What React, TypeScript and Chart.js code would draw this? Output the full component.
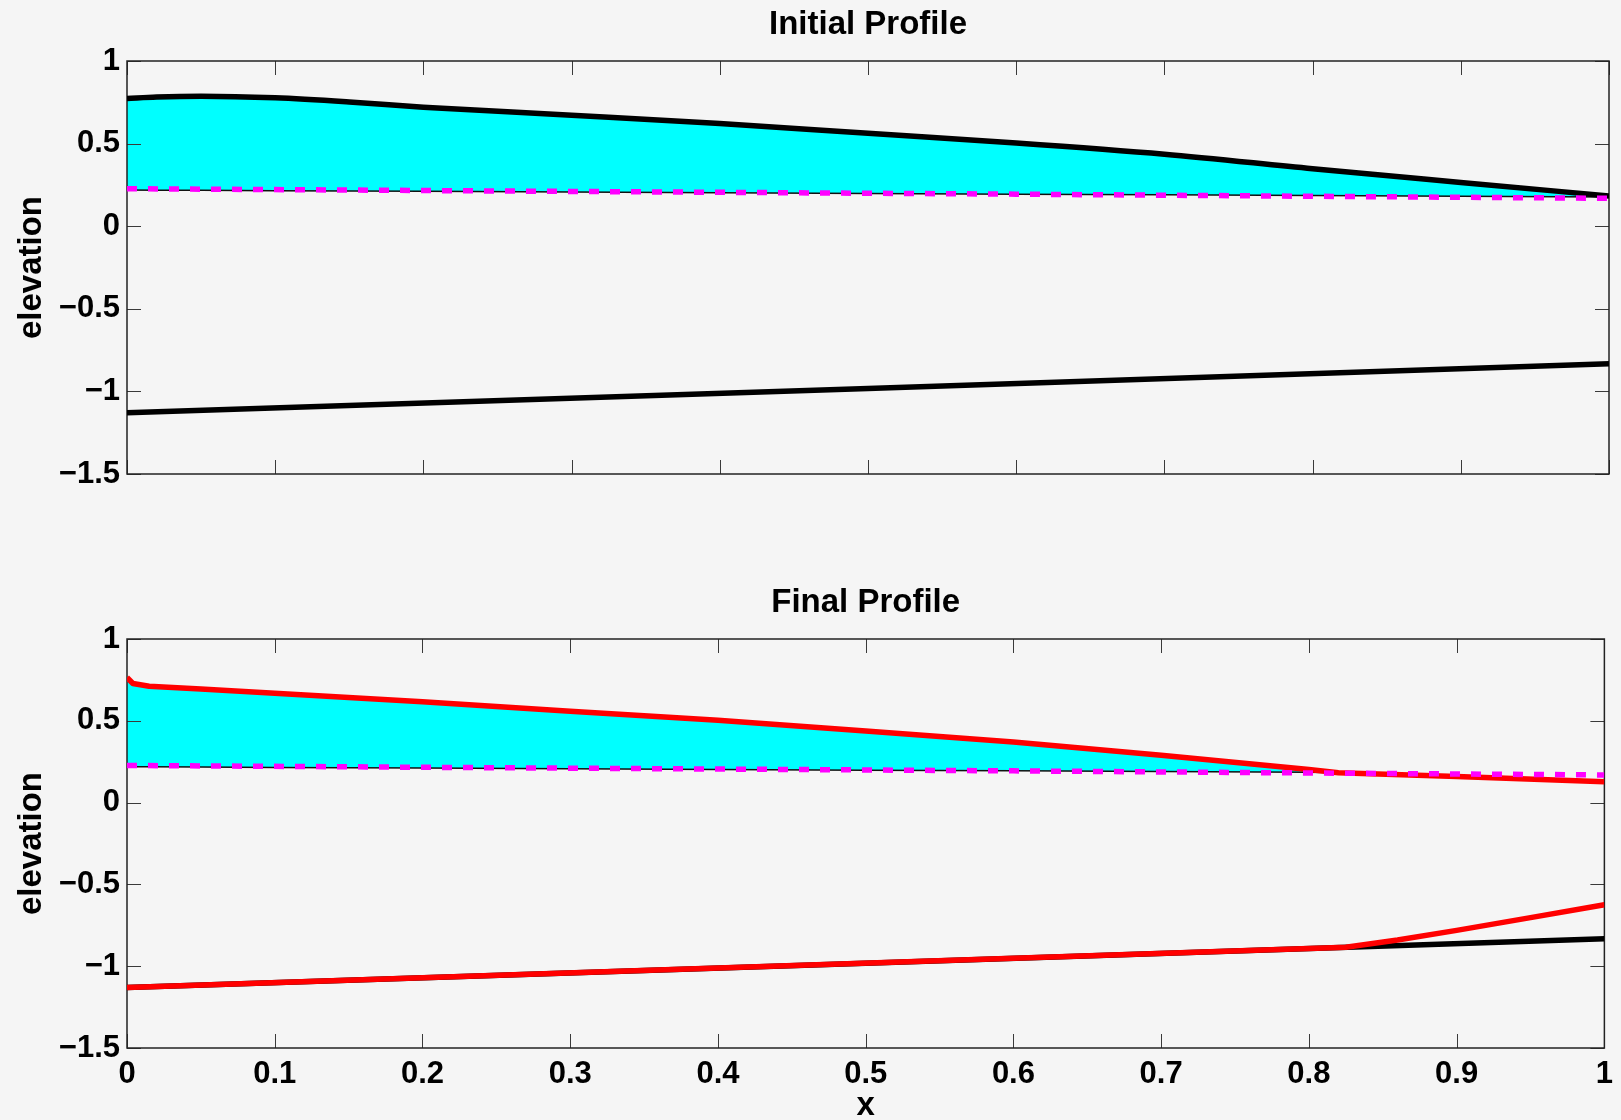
import React, { useEffect, useRef } from 'react';
import { Chart, registerables } from 'chart.js';
Chart.register(...registerables);

// ---- data ----
const xInit = [0, 0.02, 0.05, 0.1, 0.15, 0.2, 0.3, 0.4, 0.5, 0.6, 0.7, 0.8, 0.9, 1.0];
const surfInit = [0.773, 0.782, 0.787, 0.777, 0.752, 0.72, 0.672, 0.622, 0.562, 0.504, 0.436, 0.348, 0.265, 0.183];
const baseInit = [0.219, 0.218, 0.217, 0.215, 0.213, 0.211, 0.207, 0.203, 0.198, 0.194, 0.19, 0.186, 0.181, 0.177];

const xSea = [0, 0.2, 0.4, 0.6, 0.8, 1.0];
const seaLevel = [0.227, 0.216, 0.205, 0.194, 0.181, 0.169];

const xBed = [0, 0.5, 1.0];
const bedInit = [-1.13, -0.982, -0.832];

const xFinal = [0, 0.004, 0.015, 0.05, 0.1, 0.2, 0.3, 0.4, 0.5, 0.6, 0.7, 0.8, 0.82, 0.9, 1.0];
const surfFinal = [0.765, 0.728, 0.711, 0.694, 0.668, 0.617, 0.558, 0.503, 0.437, 0.371, 0.289, 0.203, 0.183, 0.159, 0.128];

const xFinalIce = [0, 0.004, 0.015, 0.05, 0.1, 0.2, 0.3, 0.4, 0.5, 0.6, 0.7, 0.8, 0.82];
const surfFinalIce = [0.765, 0.728, 0.711, 0.694, 0.668, 0.617, 0.558, 0.503, 0.437, 0.371, 0.289, 0.203, 0.183];
const baseFinal = [0.219, 0.219, 0.219, 0.218, 0.215, 0.211, 0.207, 0.203, 0.198, 0.194, 0.19, 0.186, 0.183];

const xBedFinal = [0, 0.2, 0.4, 0.6, 0.8, 0.825, 0.86, 0.9, 0.95, 1.0];
const bedFinal = [-1.13, -1.071, -1.011, -0.952, -0.892, -0.884, -0.84, -0.781, -0.703, -0.624];

const xTicks = [0, 0.1, 0.2, 0.3, 0.4, 0.5, 0.6, 0.7, 0.8, 0.9, 1];
const yTicks = [-1.5, -1, -0.5, 0, 0.5, 1];

const FONT = "'Liberation Sans', Arial, Helvetica, sans-serif";
const BG = '#f5f5f5';

const pts = (xs: number[], ys: number[]) => xs.map((x, i) => ({ x, y: ys[i] }));
const fmt = (v: number) => String(Math.round(v * 10) / 10).replace('-', '\u2212');

const boxPlugin = {
  id: 'matlabBox',
  beforeDatasetsDraw(chart: any) {
    const { ctx, chartArea: a, scales } = chart;
    const tl = 14;
    ctx.save();
    ctx.strokeStyle = '#3a3a3a';
    ctx.lineWidth = 1;
    scales.x.ticks.forEach((t: any) => {
      const px = Math.round(scales.x.getPixelForValue(t.value)) + 0.5;
      ctx.beginPath();
      ctx.moveTo(px, a.bottom);
      ctx.lineTo(px, a.bottom - tl);
      ctx.moveTo(px, a.top);
      ctx.lineTo(px, a.top + tl);
      ctx.stroke();
    });
    scales.y.ticks.forEach((t: any) => {
      const py = Math.round(scales.y.getPixelForValue(t.value)) + 0.5;
      ctx.beginPath();
      ctx.moveTo(a.left, py);
      ctx.lineTo(a.left + tl, py);
      ctx.moveTo(a.right, py);
      ctx.lineTo(a.right - tl, py);
      ctx.stroke();
    });
    ctx.strokeStyle = '#222';
    ctx.lineWidth = 1.5;
    ctx.strokeRect(a.left, a.top, a.right - a.left, a.bottom - a.top);
    ctx.restore();
  },
  afterDraw(chart: any, _args: any, opts: any) {
    const { ctx, chartArea: a } = chart;
    if (!opts || !opts.title) return;
    ctx.save();
    ctx.fillStyle = '#000';
    ctx.font = `bold 33px ${FONT}`;
    ctx.textAlign = 'center';
    ctx.textBaseline = 'middle';
    ctx.fillText(opts.title, (a.left + a.right) / 2, a.top - 36);
    ctx.restore();
  },
};

function makeOptions(showX: boolean, title: string, pad: any, xHeight: number) {
  return {
    responsive: false,
    animation: false,
    layout: { padding: pad },
    plugins: {
      legend: { display: false },
      tooltip: { enabled: false },
      filler: { drawTime: 'beforeDatasetsDraw' },
      matlabBox: { title },
    },
    scales: {
      x: {
        type: 'linear',
        min: 0,
        max: 1,
        grid: { display: false, drawTicks: false },
        border: { display: false },
        afterBuildTicks: (s: any) => { s.ticks = xTicks.map((v) => ({ value: v })); },
        afterFit: (s: any) => { s.height = xHeight; },
        ticks: {
          display: showX,
          padding: 8,
          color: '#000',
          font: { family: FONT, size: 31, weight: 'bold' },
          callback: (v: any) => fmt(Number(v)),
          maxRotation: 0,
          autoSkip: false,
        },
        title: {
          display: showX,
          text: 'x',
          color: '#000',
          font: { family: FONT, size: 33, weight: 'bold' },
          padding: { top: 0, bottom: -6 },
        },
      },
      y: {
        type: 'linear',
        min: -1.5,
        max: 1,
        grid: { display: false, drawTicks: false },
        border: { display: false },
        afterBuildTicks: (s: any) => { s.ticks = yTicks.map((v) => ({ value: v })); },
        afterFit: (s: any) => { s.width = 127; },
        ticks: {
          padding: 7,
          color: '#000',
          font: { family: FONT, size: 31, weight: 'bold' },
          callback: (v: any) => fmt(Number(v)),
          autoSkip: false,
        },
        title: {
          display: true,
          text: 'elevation',
          color: '#000',
          font: { family: FONT, size: 33, weight: 'bold' },
          padding: { top: 12, bottom: 0 },
        },
      },
    },
  };
}

const lineBase = { pointRadius: 0, tension: 0, borderJoinStyle: 'round' };
const LW = 5.5;

export default function App() {
  const topRef = useRef<HTMLCanvasElement>(null);
  const botRef = useRef<HTMLCanvasElement>(null);

  useEffect(() => {
    document.body.style.margin = '0';
    document.body.style.background = BG;
    const top = new Chart(topRef.current as HTMLCanvasElement, {
      type: 'line',
      data: {
        datasets: [
          { ...lineBase, data: pts(xSea, seaLevel), borderColor: '#ff00ff', borderWidth: 5.5, borderDash: [10, 11], fill: false },
          { ...lineBase, data: pts(xInit, surfInit), borderColor: '#000', borderWidth: LW, fill: 3, backgroundColor: '#00ffff', cubicInterpolationMode: 'monotone' },
          { ...lineBase, data: pts(xBed, bedInit), borderColor: '#000', borderWidth: LW, fill: false },
          { ...lineBase, data: pts(xInit, baseInit), borderColor: '#111', borderWidth: 1.5, fill: false },
        ],
      } as any,
      options: makeOptions(false, 'Initial Profile', { left: 0, right: 12, top: 61, bottom: 86 }, 0) as any,
      plugins: [boxPlugin as any],
    });
    const bot = new Chart(botRef.current as HTMLCanvasElement, {
      type: 'line',
      data: {
        datasets: [
          { ...lineBase, data: pts(xSea, seaLevel), borderColor: '#ff00ff', borderWidth: 5.5, borderDash: [10, 11], fill: false },
          { ...lineBase, data: pts(xFinal, surfFinal), borderColor: '#ff0000', borderWidth: LW, fill: false },
          { ...lineBase, data: pts(xBedFinal, bedFinal), borderColor: '#ff0000', borderWidth: LW, fill: false },
          { ...lineBase, data: pts(xBed, bedInit), borderColor: '#000', borderWidth: LW, fill: false },
          { ...lineBase, data: pts(xFinalIce, surfFinalIce), borderColor: 'rgba(0,0,0,0)', borderWidth: 0, fill: 5, backgroundColor: '#00ffff' },
          { ...lineBase, data: pts(xFinalIce, baseFinal), borderColor: '#111', borderWidth: 1.5, fill: false },
        ],
      } as any,
      options: makeOptions(true, 'Final Profile', { left: 0, right: 12, top: 79, bottom: 0 }, 72) as any,
      plugins: [boxPlugin as any],
    });
    return () => {
      top.destroy();
      bot.destroy();
    };
  }, []);

  return (
    <div style={{ position: 'absolute', left: 0, top: 0, width: 1621, height: 1120, background: BG }}>
      <canvas ref={topRef} width={1621} height={560} style={{ position: 'absolute', left: 0, top: 0, width: 1621, height: 560 }} />
      <canvas ref={botRef} width={1621} height={560} style={{ position: 'absolute', left: 0, top: 560, width: 1621, height: 560 }} />
    </div>
  );
}
